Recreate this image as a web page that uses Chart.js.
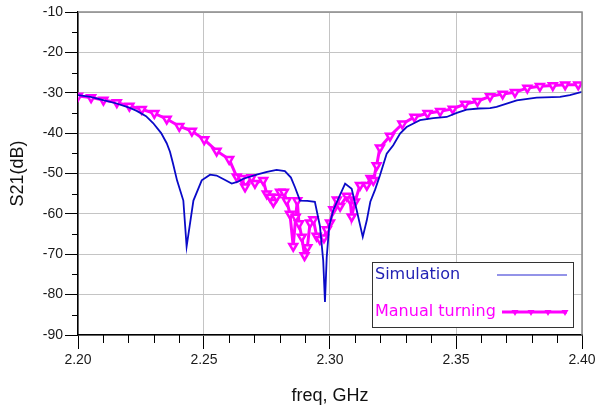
<!DOCTYPE html>
<html>
<head>
<meta charset="utf-8">
<script src="https://cdn.jsdelivr.net/npm/chart.js@4.4.1/dist/chart.umd.min.js"></script>
<style>
  html, body { margin: 0; padding: 0; background: #fff; }
  canvas { display: block; }
</style>
</head>
<body>
<canvas id="c" width="605" height="408"></canvas>
<script>
// Simulation curve (freq GHz, S21 dB)
const simFreq = [
    2.2000, 2.2050, 2.2100, 2.2150, 2.2200, 2.2233, 2.2270, 2.2298, 2.2330, 2.2352,
    2.2365, 2.2377, 2.2393, 2.2418, 2.2431, 2.2458, 2.2491, 2.2524, 2.2550, 2.2580,
    2.2610, 2.2635, 2.2656, 2.2709, 2.2750, 2.2788, 2.2821, 2.2845, 2.2861, 2.2881,
    2.2910, 2.2940, 2.2960, 2.2973, 2.2980, 2.2987, 2.2997, 2.3013, 2.3035, 2.3060,
    2.3086, 2.3106, 2.3130, 2.3146, 2.3160, 2.3179, 2.3198, 2.3225, 2.3251, 2.3278,
    2.3304, 2.3331, 2.3357, 2.3410, 2.3463, 2.3503, 2.3542, 2.3590, 2.3635, 2.3661,
    2.3741, 2.3820, 2.3913, 2.3952, 2.4000
];
const simS21 = [
    -30.6, -31.0, -31.8, -32.6, -33.6, -34.5, -35.8, -37.5, -40.0, -42.5,
    -44.6, -47.5, -51.7, -56.7, -68.1, -56.7, -51.7, -50.3, -50.5, -51.5,
    -52.5, -52.0, -51.3, -50.3, -49.6, -49.1, -49.4, -51.0, -53.4, -56.7,
    -56.8, -57.0, -63.0, -71.5, -81.8, -70.7, -63.0, -59.1, -56.0, -52.5,
    -53.8, -59.1, -65.7, -61.6, -57.0, -54.0, -50.5, -45.1, -43.0, -40.1,
    -38.5, -37.6, -36.8, -36.3, -36.0, -35.0, -34.2, -33.9, -33.8, -33.5,
    -31.9, -31.2, -31.0, -30.6, -29.8
];

// Manual turning measurement
const manFreq = [
    2.2000, 2.2052, 2.2101, 2.2154, 2.2204, 2.2253, 2.2303, 2.2352, 2.2402, 2.2452,
    2.2501, 2.2550, 2.2600, 2.2630, 2.2650, 2.2663, 2.2689, 2.2702, 2.2735, 2.2749,
    2.2762, 2.2775, 2.2788, 2.2802, 2.2817, 2.2828, 2.2841, 2.2854, 2.2864, 2.2870,
    2.2877, 2.2888, 2.2899, 2.2910, 2.2921, 2.2934, 2.2947, 2.2960, 2.2976, 2.2987,
    2.3000, 2.3013, 2.3027, 2.3040, 2.3067, 2.3080, 2.3086, 2.3099, 2.3119, 2.3146,
    2.3161, 2.3172, 2.3185, 2.3198, 2.3238, 2.3287, 2.3335, 2.3387, 2.3437, 2.3487,
    2.3536, 2.3585, 2.3635, 2.3685, 2.3734, 2.3783, 2.3833, 2.3884, 2.3933, 2.3985
];
const manS21 = [
    -30.8, -31.2, -31.8, -32.4, -33.3, -34.1, -35.1, -36.5, -38.3, -39.5,
    -41.6, -44.4, -46.5, -50.8, -51.2, -53.3, -51.0, -52.4, -51.7, -55.0,
    -55.8, -57.1, -55.8, -54.6, -54.6, -56.7, -60.0, -68.0, -60.8, -56.7,
    -62.4, -65.7, -70.3, -68.3, -62.2, -61.4, -65.5, -66.3, -65.9, -63.9,
    -62.2, -58.9, -56.5, -58.1, -55.6, -56.5, -60.7, -57.0, -52.9, -52.9,
    -51.2, -51.7, -48.0, -43.6, -40.7, -37.7, -36.0, -35.1, -34.6, -34.0,
    -32.8, -32.1, -30.9, -30.3, -29.9, -28.8, -28.4, -28.2, -28.0, -28.0
];

const seriesNames = ['Simulation', 'Manual turning'];
const xTitle = 'freq, GHz';
const yTitle = 'S21(dB)';

// axis ranges / steps
const xMin = 2.2, xMax = 2.4, xMajor = 0.05, xMinor = 0.01;
const yMin = -90, yMax = -10, yMajor = 10, yMinor = 5;

const simColor = '#0a0ac8';
const manColor = '#ff00ff';
const gridGray = '#c4c4c4';
const labelFont = '"Liberation Sans", Arial';

const toPoints = (xs, ys) => xs.map((x, i) => ({ x: x, y: ys[i] }));

// minor ticks, gray top/right frame and the boxed legend inside the plot
const extrasPlugin = {
    id: 'extras',
    afterDatasetsDraw(chart) {
        const { ctx, chartArea: a } = chart;
        const xs = chart.scales.x;
        const ys = chart.scales.y;
        ctx.save();

        ctx.strokeStyle = '#8a8a8a';
        ctx.lineWidth = 1.5;
        ctx.beginPath();
        ctx.moveTo(a.left, a.top);
        ctx.lineTo(a.right, a.top);
        ctx.lineTo(a.right, a.bottom);
        ctx.stroke();

        // minor ticks
        ctx.strokeStyle = '#000';
        ctx.lineWidth = 1;
        ctx.beginPath();
        const nx = Math.round((xMax - xMin) / xMinor);
        for (let i = 1; i < nx; i++) {
            if (i % Math.round(xMajor / xMinor) === 0) continue;
            const px = Math.round(xs.getPixelForValue(xMin + i * xMinor)) + 0.5;
            ctx.moveTo(px, a.bottom);
            ctx.lineTo(px, a.bottom + 8);
        }
        const ny = Math.round((yMax - yMin) / yMinor);
        for (let i = 1; i < ny; i++) {
            if (i % Math.round(yMajor / yMinor) === 0) continue;
            const py = Math.round(ys.getPixelForValue(yMin + i * yMinor)) + 0.5;
            ctx.moveTo(a.left - 6, py);
            ctx.lineTo(a.left, py);
        }
        ctx.stroke();

        // legend
        const bx = 372, by = 262, bw = 201, bh = 65;
        ctx.fillStyle = '#fff';
        ctx.fillRect(bx, by, bw, bh);
        ctx.strokeStyle = '#333';
        ctx.lineWidth = 1;
        ctx.strokeRect(bx + 0.5, by + 0.5, bw, bh);

        ctx.font = '16px "DejaVu Sans"';
        ctx.textBaseline = 'middle';
        ctx.textAlign = 'left';
        ctx.fillStyle = '#2222b4';
        ctx.fillText(seriesNames[0], 375, 275);
        ctx.fillStyle = manColor;
        ctx.fillText(seriesNames[1], 375, 312);

        ctx.strokeStyle = '#6f6fe0';
        ctx.lineWidth = 1.5;
        ctx.beginPath();
        ctx.moveTo(497, 275);
        ctx.lineTo(567, 275);
        ctx.stroke();

        ctx.strokeStyle = manColor;
        ctx.lineWidth = 3;
        ctx.beginPath();
        ctx.moveTo(502, 312);
        ctx.lineTo(567, 312);
        ctx.stroke();
        ctx.fillStyle = manColor;
        [515, 531, 548, 565].forEach((mx) => {
            ctx.beginPath();
            ctx.moveTo(mx - 3.5, 310);
            ctx.lineTo(mx + 3.5, 310);
            ctx.lineTo(mx, 316);
            ctx.closePath();
            ctx.fill();
        });
        ctx.restore();
    }
};

new Chart(document.getElementById('c'), {
    type: 'line',
    data: {
        datasets: [
            {
                label: seriesNames[0],
                data: toPoints(simFreq, simS21),
                borderColor: simColor,
                backgroundColor: simColor,
                borderWidth: 1.8,
                pointRadius: 0,
                tension: 0,
                fill: false
            },
            {
                label: seriesNames[1],
                data: toPoints(manFreq, manS21),
                borderColor: manColor,
                backgroundColor: '#ffffff',
                borderWidth: 3,
                pointStyle: 'triangle',
                rotation: 180,
                pointRadius: 4.5,
                pointBorderWidth: 2.5,
                pointBorderColor: manColor,
                pointBackgroundColor: '#ffe6ff',
                tension: 0,
                fill: false
            }
        ]
    },
    options: {
        responsive: false,
        animation: false,
        layout: { padding: { left: 0, right: 23, top: 12, bottom: 0 } },
        plugins: {
            legend: { display: false },
            tooltip: { enabled: false }
        },
        scales: {
            x: {
                type: 'linear',
                min: xMin,
                max: xMax,
                afterFit(scale) { scale.height = 73; },
                ticks: {
                    stepSize: xMajor,
                    autoSkip: false,
                    maxRotation: 0,
                    padding: 3,
                    color: '#1a1a1a',
                    font: { family: labelFont, size: 14 },
                    callback(v) {
                        return Number(v).toFixed(2);
                    }
                },
                grid: {
                    color: gridGray,
                    tickColor: '#000',
                    tickLength: 14,
                    lineWidth: 1
                },
                border: { color: '#000', width: 1.5 },
                title: {
                    display: true,
                    text: xTitle,
                    color: '#111',
                    font: { family: labelFont, size: 18 },
                    padding: { top: 0, bottom: 1 }
                }
            },
            y: {
                min: yMin,
                max: yMax,
                afterFit(scale) { scale.width = 78; },
                ticks: {
                    stepSize: yMajor,
                    autoSkip: false,
                    padding: 2,
                    color: '#1a1a1a',
                    font: { family: labelFont, size: 14 }
                },
                grid: {
                    color: gridGray,
                    tickColor: '#000',
                    tickLength: 13,
                    lineWidth: 1
                },
                border: { color: '#000', width: 1.5 },
                title: {
                    display: true,
                    text: yTitle,
                    color: '#111',
                    font: { family: labelFont, size: 18 },
                    padding: { top: 7, bottom: 0 }
                }
            }
        }
    },
    plugins: [extrasPlugin]
});
</script>
</body>
</html>
